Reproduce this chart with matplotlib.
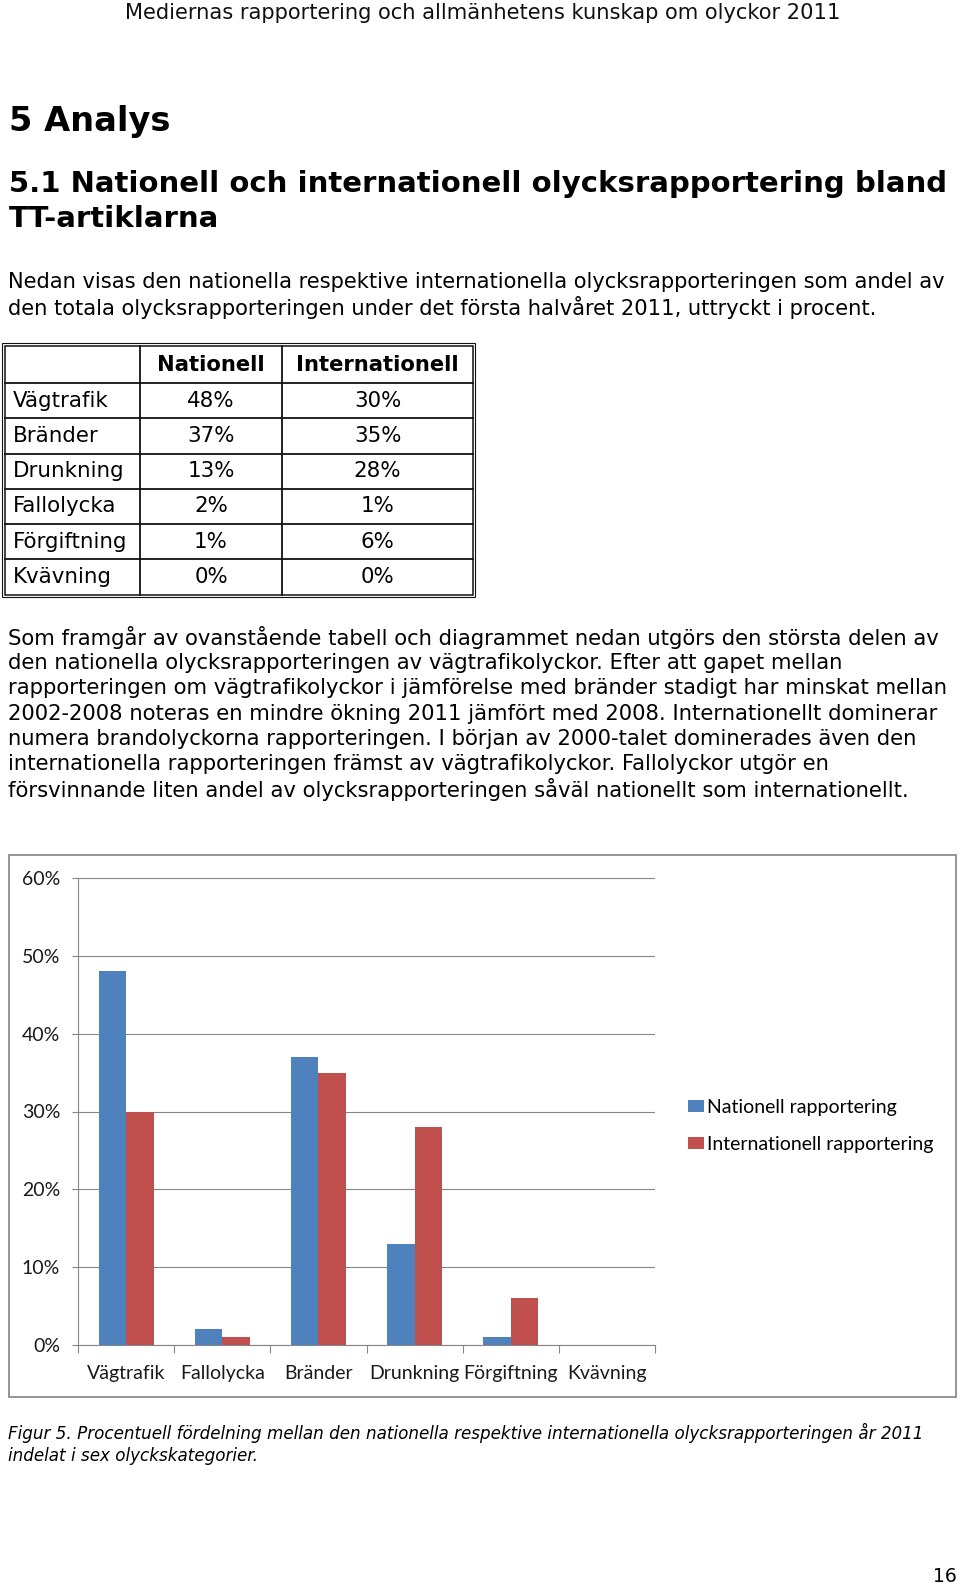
import matplotlib
matplotlib.use('Agg')
import matplotlib.pyplot as plt
import numpy as np
from matplotlib.patches import Rectangle
from matplotlib.ticker import MultipleLocator, PercentFormatter

# diagrammets data (procent)
kategorier = ['Vägtrafik', 'Fallolycka', 'Bränder', 'Drunkning', 'Förgiftning', 'Kvävning']
nationell = [48, 2, 37, 13, 1, 0]
internationell = [30, 1, 35, 28, 6, 0]
serie_namn = ['Nationell rapportering', 'Internationell rapportering']

# tabellens data
tabell_rubriker = ['Nationell', 'Internationell']
tabell_rader = ['Vägtrafik', 'Bränder', 'Drunkning', 'Fallolycka', 'Förgiftning', 'Kvävning']
tabell_nat = [48, 37, 13, 2, 1, 0]
tabell_int = [30, 35, 28, 1, 6, 0]

sidhuvud = 'Mediernas rapportering och allmänhetens kunskap om olyckor 2011'
rubrik1 = '5 Analys'
rubrik2 = ['5.1 Nationell och internationell olycksrapportering bland', 'TT-artiklarna']
stycke1 = ['Nedan visas den nationella respektive internationella olycksrapporteringen som andel av',
           'den totala olycksrapporteringen under det första halvåret 2011, uttryckt i procent.']
stycke2 = ['Som framgår av ovanstående tabell och diagrammet nedan utgörs den största delen av',
           'den nationella olycksrapporteringen av vägtrafikolyckor. Efter att gapet mellan',
           'rapporteringen om vägtrafikolyckor i jämförelse med bränder stadigt har minskat mellan',
           '2002-2008 noteras en mindre ökning 2011 jämfört med 2008. Internationellt dominerar',
           'numera brandolyckorna rapporteringen. I början av 2000-talet dominerades även den',
           'internationella rapporteringen främst av vägtrafikolyckor. Fallolyckor utgör en',
           'försvinnande liten andel av olycksrapporteringen såväl nationellt som internationellt.']
figurtext = ['Figur 5. Procentuell fördelning mellan den nationella respektive internationella olycksrapporteringen år 2011',
             'indelat i sex olyckskategorier.']
sidnummer = '16'

BLA = '#4F81BD'
ROD = '#C0504D'
GRA = '#868686'

W, H = 960, 1589
fig = plt.figure(figsize=(W / 100, H / 100), dpi=100)

# hela sidan i pixelkoordinater
page = fig.add_axes([0, 0, 1, 1], zorder=0)
page.set_xlim(0, W)
page.set_ylim(H, 0)
page.axis('off')

body = 'DejaVu Sans'
page.text(483, 13, sidhuvud, ha='center', va='center', fontsize=15.1, family=body, color='#111111')
page.text(9, 121.5, rubrik1, va='center', fontsize=24.2, weight='bold', family=body)
for i, s in enumerate(rubrik2):
    page.text(9, 184.5 + i * 34.5, s, va='center', fontsize=21, weight='bold', family=body)
for i, s in enumerate(stycke1):
    page.text(8, 282.5 + i * 25.3, s, va='center', fontsize=15.12, family=body)
for i, s in enumerate(stycke2):
    page.text(8, 637.6 + i * 25.35, s, va='center', fontsize=15.25, family=body)

# tabell
x_kol = [5, 140, 282, 473]
y_top, y_head = 345.5, 383
rad_h = (594.5 - y_head) / len(tabell_rader)
y_bot = y_head + rad_h * len(tabell_rader)
page.add_patch(Rectangle((1.5, 343), 475 - 1.5, 597 - 343, fill=False, ec='#111111', lw=0.8))
page.add_patch(Rectangle((x_kol[0], y_top), x_kol[-1] - x_kol[0], y_bot - y_top, fill=False, ec='#111111', lw=1.1))
for xk in x_kol[1:-1]:
    page.plot([xk, xk], [y_top, y_bot], color='#111111', lw=1.3)
for r in range(len(tabell_rader)):
    yl = y_head + r * rad_h
    page.plot([x_kol[0], x_kol[-1]], [yl, yl], color='#111111', lw=1.3)
for j, s in enumerate(tabell_rubriker):
    page.text((x_kol[j + 1] + x_kol[j + 2]) / 2, (y_top + y_head) / 2 + 1, s, ha='center', va='center',
              fontsize=15.2, weight='bold', family=body)
for r, namn in enumerate(tabell_rader):
    yc = y_head + (r + 0.5) * rad_h
    page.text(13, yc, namn, va='center', fontsize=15.4, family=body)
    page.text((x_kol[1] + x_kol[2]) / 2, yc, f'{tabell_nat[r]}%', ha='center', va='center', fontsize=15.4, family=body)
    page.text((x_kol[2] + x_kol[3]) / 2, yc, f'{tabell_int[r]}%', ha='center', va='center', fontsize=15.4, family=body)

# ram kring diagrammet
page.add_patch(Rectangle((9, 855), 947, 542, fill=False, ec='#8c8c8c', lw=1.3))

for i, s in enumerate(figurtext):
    page.text(8, 1433 + i * 23, s, va='center', fontsize=12.1, style='italic', family=body)
page.text(957, 1577, sidnummer, ha='right', va='center', fontsize=13.5, family=body)

# stapeldiagram
ax = fig.add_axes([78 / W, 1 - 1345 / H, 577 / W, 467 / H], zorder=1)
ax.set_facecolor('none')
x = np.arange(len(kategorier))
w = 1 / 3.5
ax.bar(x - w / 2, nationell, w, color=BLA, label=serie_namn[0])
ax.bar(x + w / 2, internationell, w, color=ROD, label=serie_namn[1])
ax.set_xlim(-0.5, len(kategorier) - 0.5)
ax.set_ylim(0, 60)
ax.yaxis.set_major_locator(MultipleLocator(10))
ax.yaxis.set_major_formatter(PercentFormatter(decimals=0))
ax.grid(axis='y', color=GRA, lw=0.8)
ax.set_axisbelow(True)
ax.set_xticks(x, kategorier)
ax.set_xticks(np.arange(-0.5, len(kategorier), 1), minor=True)
ax.tick_params(axis='x', which='major', length=0, pad=14.6, labelsize=14, labelcolor='#1a1a1a')
ax.tick_params(axis='x', which='minor', length=5.8, width=0.8, color=GRA)
ax.tick_params(axis='y', length=4.3, width=0.8, color=GRA, pad=8.6, labelsize=14, labelcolor='#1a1a1a')
for lab in ax.get_xticklabels() + ax.get_yticklabels():
    lab.set_family('Lato')
for side in ['top', 'right']:
    ax.spines[side].set_visible(False)
for side in ['left', 'bottom']:
    ax.spines[side].set_color(GRA)
    ax.spines[side].set_linewidth(0.8)

ax.legend(loc='center left', bbox_to_anchor=(688 / W, 1 - 1126 / H), bbox_transform=fig.transFigure,
          frameon=False, borderpad=0, borderaxespad=0, handlelength=0.82, handleheight=0.57,
          handletextpad=0.15, labelspacing=1.03, prop={'family': 'Lato', 'size': 14})

fig.savefig('out.png', dpi=100, facecolor='white')
